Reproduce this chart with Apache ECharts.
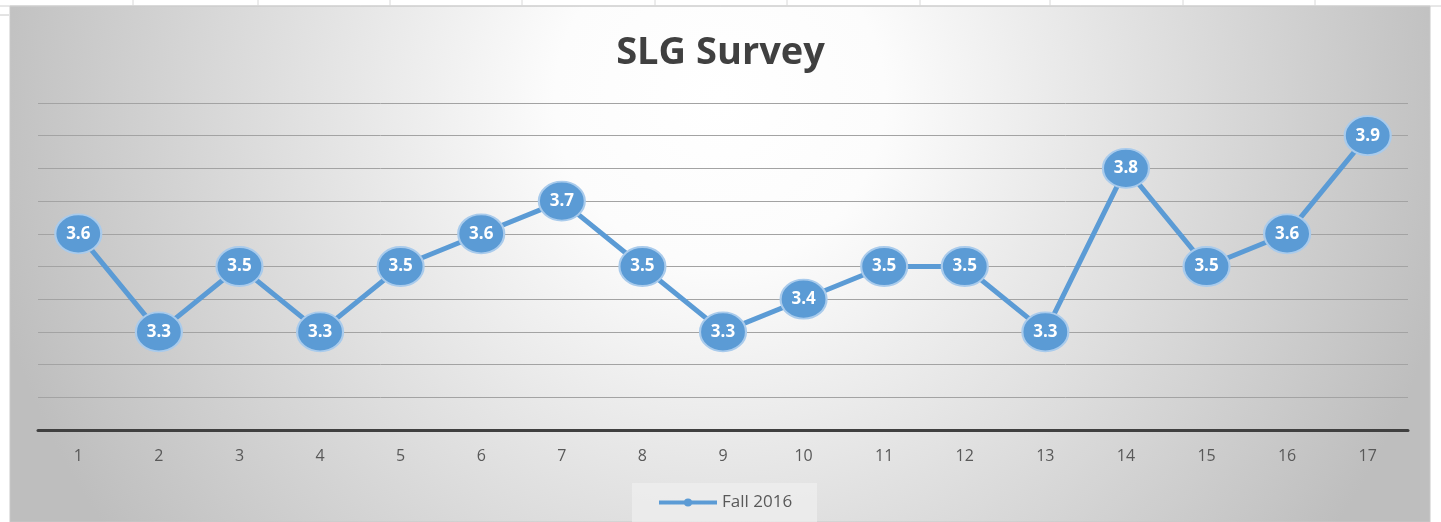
<!DOCTYPE html>
<html>
<head>
<meta charset="utf-8">
<script src="https://cdn.jsdelivr.net/npm/echarts@6/dist/echarts.min.js"></script>
<style>
html,body{margin:0;padding:0;background:#fff;}
#chart{width:1441px;height:522px;}
</style>
</head>
<body>
<div id="chart"></div>
<script>
const categories = ['1','2','3','4','5','6','7','8','9','10','11','12','13','14','15','16','17'];
const fall2016 = [3.6,3.3,3.5,3.3,3.5,3.6,3.7,3.5,3.3,3.4,3.5,3.5,3.3,3.8,3.5,3.6,3.9];
const seriesName = 'Fall 2016';
const titleText = 'SLG Survey';

const chart = echarts.init(document.getElementById('chart'), null, {renderer:'canvas'});

const sheetLinesX = [133,258,390,522,655,787,920,1050,1183,1315];
const decor = [
  {type:'rect', shape:{x:10,y:6,width:1420,height:516}, z:-10,
   style:{fill:{type:'radial', x:0.5, y:0.18, r:1.45,
     colorStops:[{offset:0,color:'#ffffff'},{offset:0.22,color:'#fcfcfc'},{offset:1,color:'#bebebe'}]},
     stroke:'#c8c8c8', lineWidth:1}},
  {type:'line', shape:{x1:0,y1:6,x2:1441,y2:6}, z:-9, style:{stroke:'#d0d0d0',lineWidth:1}},
  {type:'line', shape:{x1:0,y1:15,x2:9,y2:15}, z:-9, style:{stroke:'#c8c8c8',lineWidth:1}},
  {type:'rect', shape:{x:632,y:483,width:185,height:39}, z:-5, style:{fill:'rgba(240,240,240,0.7)'}}
];
sheetLinesX.forEach(x => decor.push({type:'line', shape:{x1:x,y1:0,x2:x,y2:6}, z:-9, style:{stroke:'#d8d8d8',lineWidth:1}}));

chart.setOption({
  backgroundColor:'#ffffff',
  animation:false,
  graphic: decor,
  title:{
    text: titleText, left:'center', top:29,
    textStyle:{fontFamily:'Open Sans', fontWeight:'bold', fontSize:38, color:'#404040'}
  },
  legend:{
    data:[seriesName], bottom:6, left:652,
    itemWidth:58, itemHeight:10, itemGap:6,
    lineStyle:{width:4},
    itemStyle:{borderWidth:0},
    textStyle:{fontFamily:'Open Sans', fontSize:17, color:'#595959'}
  },
  grid:{left:38, right:33, top:103, bottom:92},
  xAxis:{
    type:'category', data:categories, boundaryGap:true,
    axisLine:{lineStyle:{color:'#404040', width:3}},
    axisTick:{show:false},
    axisLabel:{fontFamily:'Open Sans', fontSize:16, color:'#595959', margin:18}
  },
  yAxis:{
    type:'value', min:3, max:4, interval:0.1,
    axisLine:{show:false}, axisTick:{show:false}, axisLabel:{show:false},
    splitLine:{lineStyle:{color:'#a3a3a3', width:1}}
  },
  series:[{
    name:seriesName, type:'line', data:fall2016,
    symbol:'circle', symbolSize:[46,39],
    lineStyle:{color:'#5b9bd5', width:5},
    itemStyle:{color:'#5b9bd5', borderColor:'#a9cbec', borderWidth:2},
    label:{show:true, position:'inside', color:'#ffffff', fontFamily:'Open Sans', fontWeight:'bold', fontSize:17,
      formatter: p => p.value.toFixed(1)}
  }]
});
</script>
</body>
</html>
